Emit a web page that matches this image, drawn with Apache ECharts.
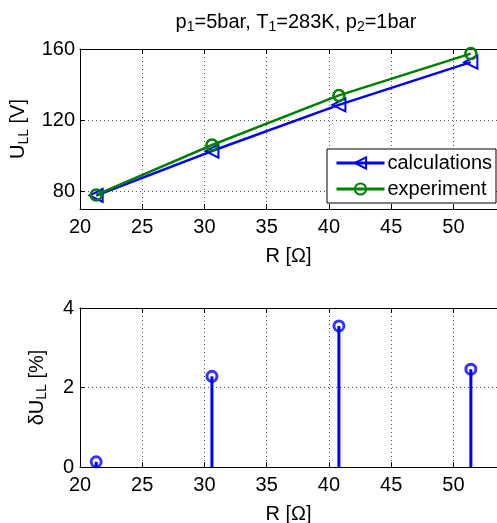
<!DOCTYPE html>
<html>
<head>
<meta charset="utf-8">
<script src="https://cdn.jsdelivr.net/npm/echarts@6/dist/echarts.min.js"></script>
<style>
  html, body { margin: 0; padding: 0; background: #fff; }
  #chart { width: 497px; height: 523px; }
</style>
</head>
<body>
<div id="chart"></div>
<script>
// Load resistance R [Ω]
const resistance = [21.3, 30.6, 40.8, 51.4];
// Line-to-line voltage U_LL [V]
const calculations = [77.6, 102.6, 128.6, 152.6];
const experiment = [77.9, 106.0, 133.9, 157.4];
// Relative deviation δU_LL [%]
const deviation = [0.13, 2.28, 3.55, 2.46];

// The axes box runs past the right edge of the canvas
const xTicks = { min: 20, max: 53.5, interval: 5 };
const topYTicks = [80, 120, 160];

const FONT = 'Liberation Sans, Arial, Helvetica, sans-serif';
const BLUE = '#0000ff';
const GREEN = '#008000';

const pairs = (xs, ys) => xs.map((x, i) => [x, ys[i]]);

const chart = echarts.init(document.getElementById('chart'), null, { renderer: 'canvas' });

const sub = { fontSize: 14, fontFamily: FONT, fontWeight: 'normal', color: '#000', verticalAlign: 'bottom', lineHeight: 15, padding: [13, 0, 0, 0] };
const main = { fontSize: 20, fontFamily: FONT, fontWeight: 'normal', color: '#000', lineHeight: 24 };

const gridLine = { show: true, lineStyle: { color: '#555', type: [1, 3], width: 1 } };
const boxLine = { show: true, lineStyle: { color: '#000', width: 1 } };

function xAxisPair(gridIndex) {
  return [
    {
      type: 'value', gridIndex, position: 'bottom',
      min: xTicks.min, max: xTicks.max, interval: xTicks.interval,
      axisLine: boxLine,
      axisTick: { show: true, inside: true, length: 5, lineStyle: { color: '#000' } },
      axisLabel: { color: '#000', fontSize: 20, fontFamily: FONT, margin: 8, showMaxLabel: false },
      splitLine: gridLine,
      name: 'R [Ω]', nameLocation: 'middle', nameGap: 37,
      nameTextStyle: { color: '#000', fontSize: 20, fontFamily: FONT }
    },
    {
      type: 'value', gridIndex, position: 'top',
      min: xTicks.min, max: xTicks.max, interval: xTicks.interval,
      axisLine: boxLine,
      axisTick: { show: true, inside: true, length: 5, lineStyle: { color: '#000' } },
      axisLabel: { show: false },
      splitLine: { show: false }
    }
  ];
}

const option = {
  animation: false,
  backgroundColor: '#fff',
  title: {
    text: '{a|p}{s|1}{a|=5bar, T}{s|1}{a|=283K, p}{s|2}{a|=1bar}',
    left: 291, top: 5, textAlign: 'center',
    textStyle: { fontWeight: 'normal', rich: { a: main, s: sub } }
  },
  legend: {
    left: 327, top: 149, width: 167,
    orient: 'vertical',
    backgroundColor: '#fff',
    borderColor: '#000', borderWidth: 1, borderRadius: 0,
    padding: [4, 4, 4, 8],
    itemWidth: 48, itemHeight: 14, itemGap: 6,
    lineStyle: { width: 3 },
    textStyle: { color: '#000', fontSize: 20, fontFamily: FONT, padding: [0, 0, 0, -2] },
    data: ['calculations', 'experiment']
  },
  grid: [
    { left: 80, top: 49, right: 0, height: 160, outerBoundsMode: 'none', containLabel: false },
    { left: 80, top: 308, right: 0, height: 159, outerBoundsMode: 'none', containLabel: false }
  ],
  xAxis: [...xAxisPair(0), ...xAxisPair(1)],
  yAxis: [
    {
      type: 'value', gridIndex: 0, min: 70, max: 160,
      axisLine: boxLine,
      axisTick: { show: true, inside: true, length: 5, customValues: topYTicks, lineStyle: { color: '#000' } },
      axisLabel: { color: '#000', fontSize: 20, fontFamily: FONT, margin: 5, customValues: topYTicks },
      splitLine: gridLine,
      name: '{a|U}{s|LL}{a| [V]}', nameLocation: 'middle', nameGap: 48, nameRotate: 90,
      nameTextStyle: { rich: { a: main, s: sub } }
    },
    {
      type: 'value', gridIndex: 1, min: 0, max: 4, interval: 2,
      axisLine: boxLine,
      axisTick: { show: true, inside: true, length: 5, lineStyle: { color: '#000' } },
      axisLabel: { color: '#000', fontSize: 20, fontFamily: FONT, margin: 6 },
      splitLine: gridLine,
      name: '{a|δU}{s|LL}{a| [%]}', nameLocation: 'middle', nameGap: 31, nameRotate: 90,
      nameTextStyle: { rich: { a: main, s: sub } }
    }
  ],
  series: [
    {
      name: 'calculations', type: 'line', xAxisIndex: 0, yAxisIndex: 0,
      data: pairs(resistance, calculations),
      symbol: 'triangle', symbolRotate: 90, symbolSize: 13,
      lineStyle: { color: BLUE, width: 2.5 },
      itemStyle: { color: 'rgba(0,0,0,0)', borderColor: BLUE, borderWidth: 2 },
      z: 3
    },
    {
      name: 'experiment', type: 'line', xAxisIndex: 0, yAxisIndex: 0,
      data: pairs(resistance, experiment),
      symbol: 'circle', symbolSize: 11,
      lineStyle: { color: GREEN, width: 2.5 },
      itemStyle: { color: 'rgba(0,0,0,0)', borderColor: GREEN, borderWidth: 2.5 },
      z: 4
    },
    {
      name: 'stem', type: 'bar', xAxisIndex: 2, yAxisIndex: 1,
      data: pairs(resistance, deviation),
      barWidth: 3,
      itemStyle: { color: BLUE }
    },
    {
      name: 'stemHead', type: 'scatter', xAxisIndex: 2, yAxisIndex: 1,
      data: pairs(resistance, deviation),
      symbol: 'circle', symbolSize: 10,
      itemStyle: { color: 'rgba(0,0,0,0)', borderColor: BLUE, borderWidth: 3 },
      z: 5
    }
  ]
};

chart.setOption(option);
</script>
</body>
</html>
